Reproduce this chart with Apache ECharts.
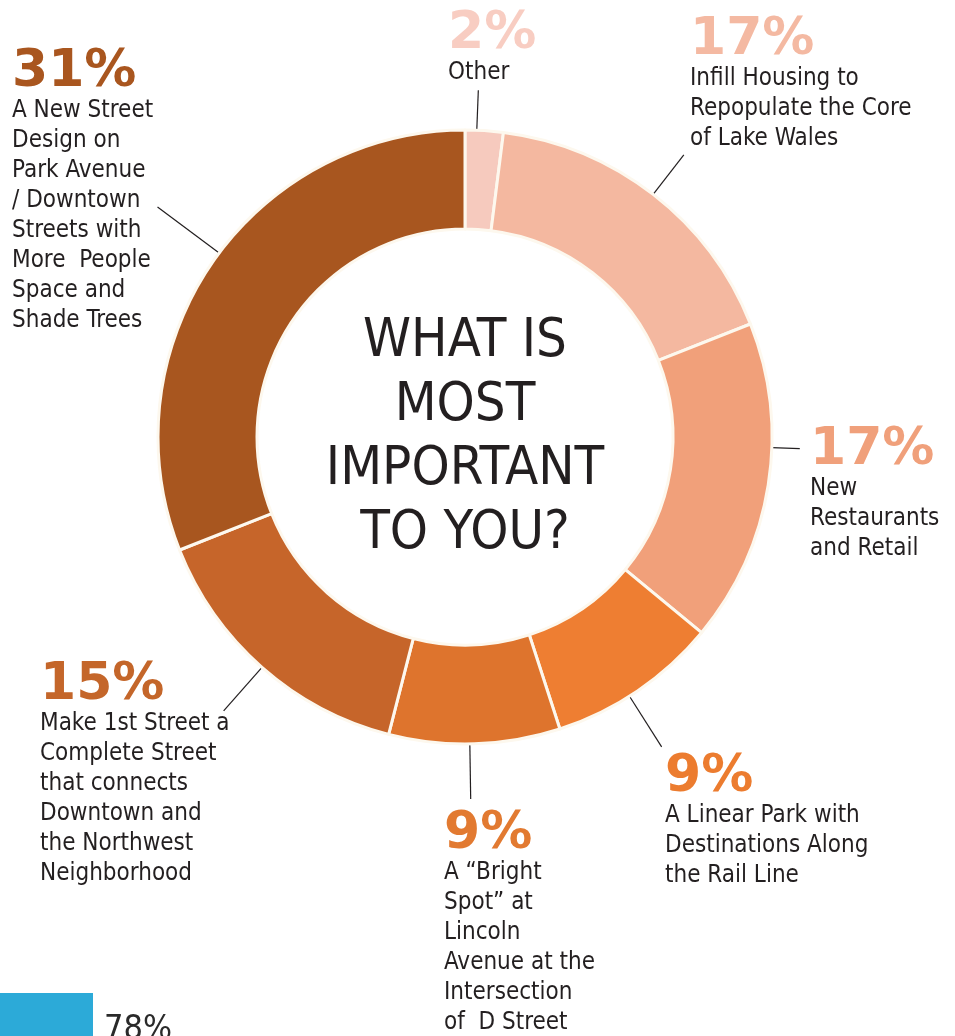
<!DOCTYPE html>
<html>
<head>
<meta charset="utf-8">
<script src="https://cdn.jsdelivr.net/npm/echarts@6/dist/echarts.min.js"></script>
<style>
html,body{margin:0;padding:0;background:#fff;}
#chart{width:955px;height:1036px;}
</style>
</head>
<body>
<div id="chart"></div>
<script>
// ---- data ----
const categories = [
  'Other',
  'Infill Housing to\nRepopulate the Core\nof Lake Wales',
  'New\nRestaurants\nand Retail',
  'A Linear Park with\nDestinations Along\nthe Rail Line',
  'A \u201cBright\nSpot\u201d at\nLincoln\nAvenue at the\nIntersection\nof  D Street',
  'Make 1st Street a\nComplete Street\nthat connects\nDowntown and\nthe Northwest\nNeighborhood',
  'A New Street\nDesign on\nPark Avenue\n/ Downtown\nStreets with\nMore  People\nSpace and\nShade Trees'
];
const values = [2, 17, 17, 9, 9, 15, 31];
const centerTitle = 'WHAT IS\nMOST\nIMPORTANT\nTO YOU?';
const cornerValue = '78%';

// ---- styles / layout ----
const sliceColors = ['#f6cabe', '#f4b8a0', '#f1a07a', '#ee7e32', '#de742d', '#c6652a', '#a8561f'];
const pctColors   = ['#f8cdc2', '#f4b9a2', '#f0a07b', '#ec7c2f', '#e27a31', '#c4662a', '#a9561f'];
const labelPos = [[448, 10], [690, 16], [810, 426], [665, 753], [444, 810], [40, 661], [12, 48]];
const leaderLen = [40, 50, 28, 60, 55, 58, 77];
const leaderRot = [-1.4, 0, -7, 1.8, 0.9, 0, 2.6];
const CX = 465, CY = 437, R_IN = 208, R_OUT = 307;
const TXT = '#231f20';
const FONT = '"DejaVu Sans Condensed", "DejaVu Sans", sans-serif';

const chart = echarts.init(document.getElementById('chart'), null, {renderer: 'canvas'});

const rich = {
  t: {fontFamily: FONT, fontSize: 24, lineHeight: 30, color: TXT}
};
pctColors.forEach((c, i) => {
  rich['p' + i] = {fontFamily: '"DejaVu Sans", sans-serif', fontWeight: 'bold', fontSize: 52, lineHeight: 48, color: c};
});

const option = {
  backgroundColor: '#ffffff',
  animation: false,
  series: [{
    type: 'pie',
    center: [CX, CY],
    radius: [R_IN, R_OUT],
    startAngle: 90,
    clockwise: true,
    avoidLabelOverlap: false,
    emphasis: {disabled: true},
    itemStyle: {borderColor: '#fdf8ee', borderWidth: 3},
    label: {
      show: true,
      position: 'outside',
      formatter: p => '{p' + p.dataIndex + '|' + p.value + '%}\n{t|' + p.name + '}',
      rich: rich
    },
    labelLine: {show: true, length: 10, length2: 0, lineStyle: {color: TXT, width: 1.2}},
    labelLayout: function (params) {
      const i = params.dataIndex;
      const p0 = params.labelLinePoints ? params.labelLinePoints[0] : [CX, CY - R_OUT];
      const a = Math.atan2(p0[0] - CX, -(p0[1] - CY)) + leaderRot[i] * Math.PI / 180;
      const s = Math.sin(a), c = Math.cos(a);
      const r2 = R_OUT + leaderLen[i];
      return {
        x: labelPos[i][0],
        y: labelPos[i][1],
        align: 'left',
        verticalAlign: 'top',
        labelLinePoints: [[CX + R_OUT * s, CY - R_OUT * c], [CX + r2 * s, CY - r2 * c]]
      };
    },
    data: categories.map((name, i) => ({
      name: name,
      value: values[i],
      itemStyle: {color: sliceColors[i]}
    }))
  }],
  graphic: [
    {
      type: 'text', x: CX, y: 310, silent: true,
      style: {text: centerTitle, fill: TXT, fontFamily: FONT, fontSize: 54, lineHeight: 64,
              textAlign: 'center', textVerticalAlign: 'top'}
    },
    {type: 'rect', shape: {x: 0, y: 993, width: 93, height: 43}, style: {fill: '#2caad8'}, silent: true},
    {
      type: 'text', x: 104, y: 1013, silent: true,
      style: {text: cornerValue, fill: '#2a2a2a', fontFamily: FONT, fontSize: 34, textVerticalAlign: 'top'}
    }
  ]
};
chart.setOption(option);
</script>
</body>
</html>
